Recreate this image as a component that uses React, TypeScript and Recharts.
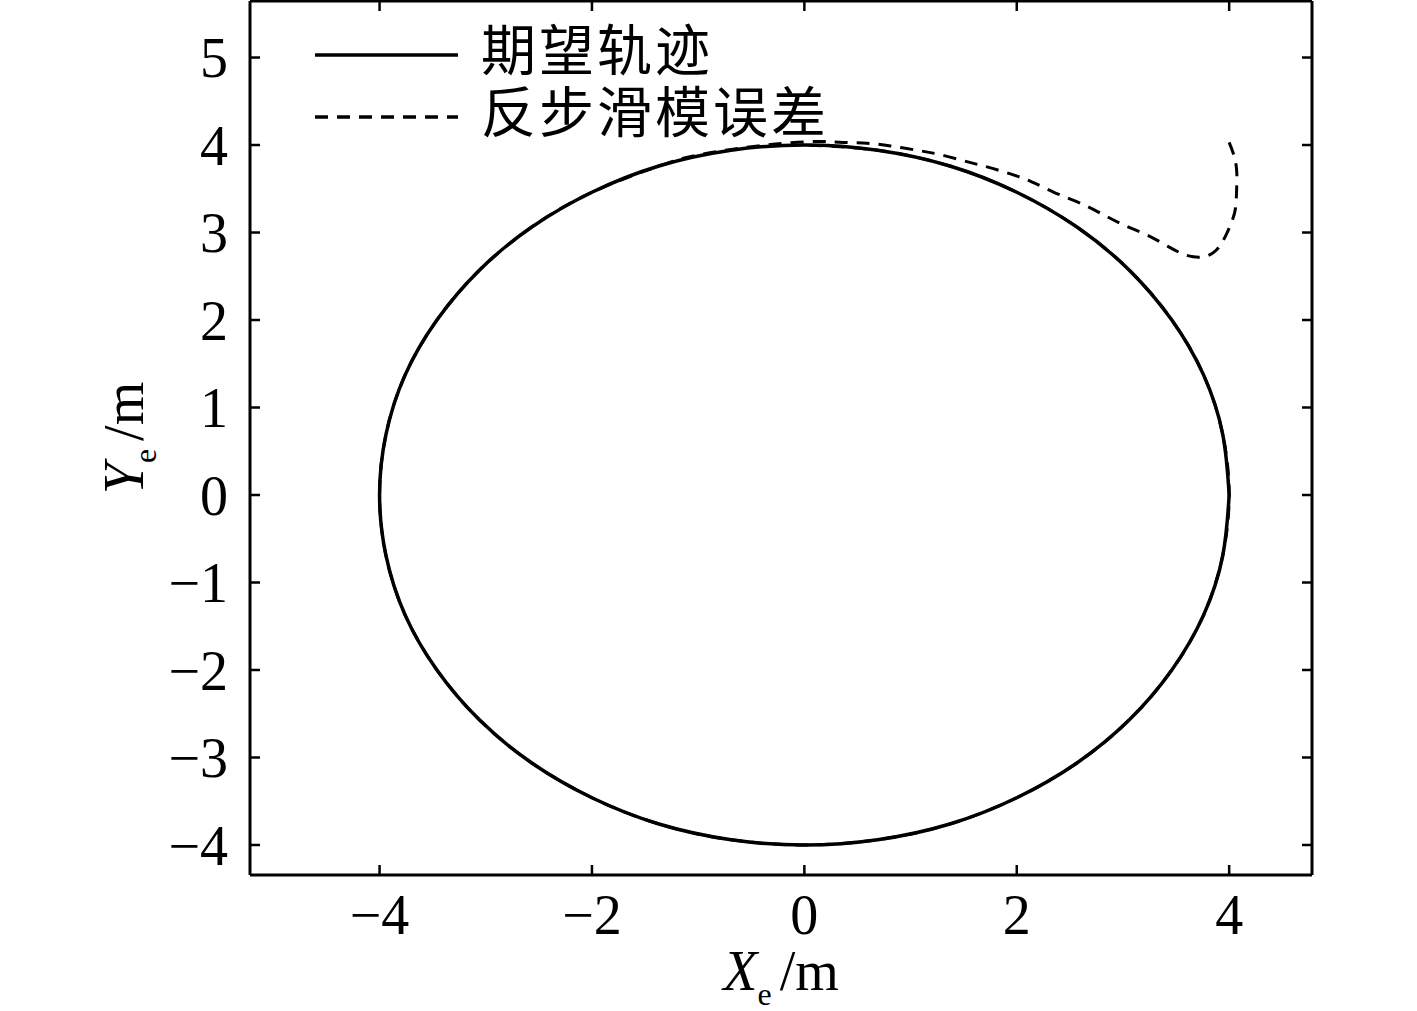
import React from "react";
import { LineChart, Line, XAxis, YAxis, Legend } from "recharts";

// desired trajectory: circle, radius 4 m
const circleX = [4, 3.94, 3.76, 3.46, 3.06, 2.57, 2.0, 1.37, 0.69, 0, -0.69, -1.37, -2.0, -2.57, -3.06, -3.46, -3.76, -3.94, -4, -3.94, -3.76, -3.46, -3.06, -2.57, -2.0, -1.37, -0.69, 0, 0.69, 1.37, 2.0, 2.57, 3.06, 3.46, 3.76, 3.94, 4];
const circleY = [0, 0.69, 1.37, 2.0, 2.57, 3.06, 3.46, 3.76, 3.94, 4, 3.94, 3.76, 3.46, 3.06, 2.57, 2.0, 1.37, 0.69, 0, -0.69, -1.37, -2.0, -2.57, -3.06, -3.46, -3.76, -3.94, -4, -3.94, -3.76, -3.46, -3.06, -2.57, -2.0, -1.37, -0.69, 0];

// backstepping sliding mode trajectory (transient, then on the circle)
const trackX = [4.0, 4.04, 4.07, 4.07, 4.06, 4.03, 3.97, 3.88, 3.75, 3.6, 3.44, 3.23, 3.0, 2.79, 2.57, 2.35, 2.14, 1.94, 1.72, 1.53, 1.28, 1.06, 0.81, 0.59, 0.37, 0.12, -0.2, -0.5, -0.8, -1.1, -1.37, -2.0, -2.57, -3.06, -3.46, -3.76, -3.94, -4, -3.94, -3.76, -3.46, -3.06, -2.57, -2.0, -1.37, -0.69, 0, 0.69, 1.37, 2.0, 2.57, 3.06, 3.46, 3.76, 3.94, 4, 3.94, 3.76, 3.46, 3.06, 2.57, 2.0, 1.37, 0.69, 0];
const trackY = [4.03, 3.9, 3.72, 3.48, 3.28, 3.14, 2.97, 2.8, 2.72, 2.74, 2.83, 2.97, 3.09, 3.22, 3.35, 3.46, 3.58, 3.67, 3.75, 3.81, 3.89, 3.94, 3.99, 4.02, 4.03, 4.04, 4.02, 3.98, 3.93, 3.86, 3.76, 3.46, 3.06, 2.57, 2.0, 1.37, 0.69, 0, -0.69, -1.37, -2.0, -2.57, -3.06, -3.46, -3.76, -3.94, -4, -3.94, -3.76, -3.46, -3.06, -2.57, -2.0, -1.37, -0.69, 0, 0.69, 1.37, 2.0, 2.57, 3.06, 3.46, 3.76, 3.94, 4];

const xTicks = [-4, -2, 0, 2, 4];
const yTicks = [-4, -3, -2, -1, 0, 1, 2, 3, 4, 5];
const seriesNames = ["期望轨迹", "反步滑模误差"];

const desired = circleX.map((x, i) => ({ x, y: circleY[i] }));
const tracked = trackX.map((x, i) => ({ x, y: trackY[i] }));

const serif = "'Liberation Serif', 'Times New Roman', serif";
const cjk = "'Noto Sans CJK SC', sans-serif";
const tickStyle = { fontFamily: serif, fontSize: 56, fill: "#000" };
const fmt = (v: number) => (v < 0 ? `\u2212${Math.abs(v)}` : `${v}`);
const blank = () => "";

const XLabel = (props: any) => {
  const vb = props.viewBox || {};
  const cx = vb.x + vb.width / 2;
  return (
    <text x={cx} y={vb.y + 115} textAnchor="middle" fontFamily={serif} fontSize={56} fill="#000">
      <tspan fontStyle="italic">X</tspan>
      <tspan fontSize={32} dy={15}>e</tspan>
      <tspan dy={-15} dx={8}>/m</tspan>
    </text>
  );
};

const YLabel = (props: any) => {
  const vb = props.viewBox || {};
  const x = vb.x - 7;
  const y = vb.y + vb.height / 2;
  return (
    <text x={x} y={y} transform={`rotate(-90, ${x}, ${y})`} textAnchor="middle" fontFamily={serif} fontSize={56} fill="#000">
      <tspan fontStyle="italic">Y</tspan>
      <tspan fontSize={32} dy={13}>e</tspan>
      <tspan dy={-13} dx={8}>/m</tspan>
    </text>
  );
};

const renderLegend = (props: any) => {
  const items = [...(props.payload ?? [])].sort(
    (a: any, b: any) => seriesNames.indexOf(a.value) - seriesNames.indexOf(b.value)
  );
  return (
    <div>
      {items.map((it: any) => (
        <div key={it.value} style={{ display: "flex", alignItems: "center", height: 62 }}>
          <svg width={147} height={10}>
            <line
              x1={2}
              y1={5}
              x2={145}
              y2={5}
              stroke="#000"
              strokeWidth={3.5}
              strokeDasharray={it.payload?.strokeDasharray}
            />
          </svg>
          <span
            style={{
              marginLeft: 21,
              position: "relative",
              top: -9,
              fontFamily: cjk,
              fontSize: 55,
              letterSpacing: 3,
              lineHeight: "56px",
              color: "#000",
            }}
          >
            {it.value}
          </span>
        </div>
      ))}
    </div>
  );
};

export default function App() {
  return (
    <div style={{ position: "absolute", left: 0, top: 0, background: "#fff" }}>
      <LineChart width={1417} height={1011} margin={{ top: 0, right: 100, bottom: 76, left: 150 }}>
        <XAxis
          xAxisId="b"
          type="number"
          dataKey="x"
          domain={[-5.22, 4.78]}
          allowDataOverflow
          ticks={xTicks}
          tickFormatter={fmt}
          orientation="bottom"
          height={60}
          tickSize={-10}
          tickMargin={29}
          tick={tickStyle}
          axisLine={{ stroke: "#000", strokeWidth: 3 }}
          tickLine={{ stroke: "#000", strokeWidth: 2.5 }}
          label={{ content: XLabel }}
        />
        <XAxis
          xAxisId="t"
          type="number"
          dataKey="x"
          domain={[-5.22, 4.78]}
          allowDataOverflow
          ticks={xTicks}
          tickFormatter={blank}
          orientation="top"
          height={1}
          tickSize={-10}
          axisLine={{ stroke: "#000", strokeWidth: 3 }}
          tickLine={{ stroke: "#000", strokeWidth: 2.5 }}
        />
        <YAxis
          yAxisId="l"
          type="number"
          dataKey="y"
          domain={[-4.343, 5.646]}
          allowDataOverflow
          ticks={yTicks}
          tickFormatter={fmt}
          orientation="left"
          width={100}
          tickSize={-10}
          tickMargin={32}
          tick={tickStyle}
          axisLine={{ stroke: "#000", strokeWidth: 3 }}
          tickLine={{ stroke: "#000", strokeWidth: 2.5 }}
          label={{ content: YLabel }}
        />
        <YAxis
          yAxisId="r"
          type="number"
          dataKey="y"
          domain={[-4.343, 5.646]}
          allowDataOverflow
          ticks={yTicks}
          tickFormatter={blank}
          orientation="right"
          width={5}
          tickSize={-10}
          axisLine={{ stroke: "#000", strokeWidth: 3 }}
          tickLine={{ stroke: "#000", strokeWidth: 2.5 }}
        />
        <Legend
          layout="vertical"
          align="center"
          verticalAlign="middle"
          content={renderLegend}
          wrapperStyle={{ position: "absolute", left: 313, top: 24, width: 620 }}
        />
        <Line
          xAxisId="b"
          yAxisId="l"
          data={tracked}
          dataKey="y"
          name={seriesNames[1]}
          type="natural"
          stroke="#000"
          strokeWidth={3}
          strokeDasharray="13 9"
          dot={false}
          activeDot={false}
          isAnimationActive={false}
        />
        <Line
          xAxisId="b"
          yAxisId="l"
          data={desired}
          dataKey="y"
          name={seriesNames[0]}
          type="natural"
          stroke="#000"
          strokeWidth={3.5}
          dot={false}
          activeDot={false}
          isAnimationActive={false}
        />
      </LineChart>
    </div>
  );
}
